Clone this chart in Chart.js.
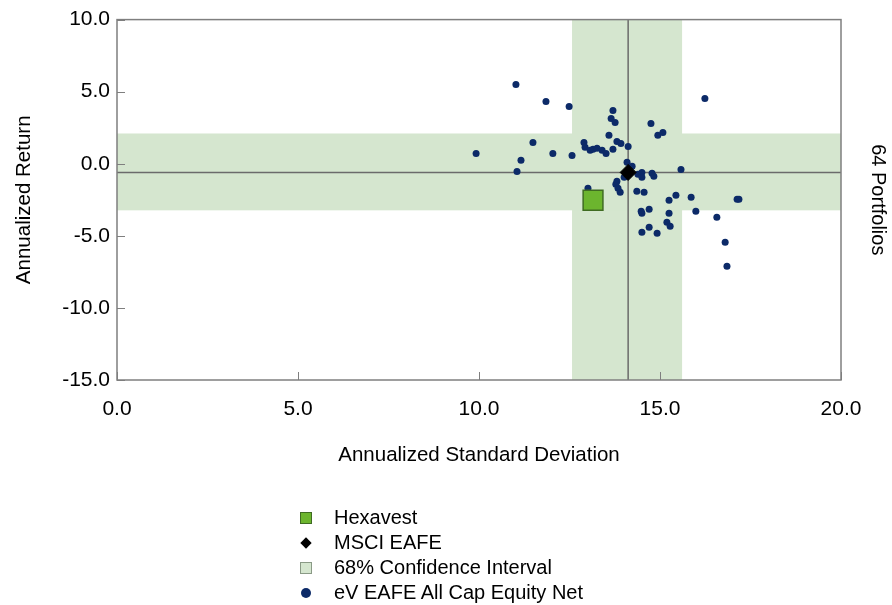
<!DOCTYPE html>
<html>
<head>
<meta charset="utf-8">
<script src="https://cdn.jsdelivr.net/npm/chart.js@4.4.1/dist/chart.umd.min.js"></script>
<style>
    html, body {
        margin: 0;
        padding: 0;
        background: #fff;
    }

    .wrap {
        position: relative;
        width: 892px;
        height: 605px;
    }

    .legend {
        position: absolute;
        left: 293px;
        top: 505px;
        font-family: 'Liberation Sans', Arial, sans-serif;
        font-size: 20px;
        color: #000;
    }

    .legend .item {
        height: 25px;
        display: flex;
        align-items: center;
    }

    .legend .mark {
        width: 41px;
        height: 25px;
        position: relative;
    }

    .legend .mark span {
        position: absolute;
        box-sizing: border-box;
    }
</style>
</head>
<body>
<div class="wrap">
    <canvas id="riskChart" width="892" height="605"></canvas>
    <div class="legend">
        <div class="item">
            <div class="mark"><span style="left:7px;top:7px;width:12px;height:12px;background:#6cb52e;border:1px solid #3f6b22;"></span></div>
            <div>Hexavest</div>
        </div>
        <div class="item">
            <div class="mark"><span style="left:9px;top:9px;width:8px;height:8px;background:#000;transform:rotate(45deg);"></span></div>
            <div>MSCI EAFE</div>
        </div>
        <div class="item">
            <div class="mark"><span style="left:7px;top:7px;width:12px;height:12px;background:#d5e6cf;border:1px solid #8a9a86;"></span></div>
            <div>68% Confidence Interval</div>
        </div>
        <div class="item">
            <div class="mark"><span style="left:8px;top:8px;width:10px;height:10px;background:#0c2a68;border-radius:50%;"></span></div>
            <div>eV EAFE All Cap Equity Net</div>
        </div>
    </div>
</div>

<script>
    // portfolio universe (annualized std dev, annualized return)
    const universeSd = [
        9.92, 11.02, 11.85, 12.49, 11.05, 11.16, 11.49, 12.04, 12.57, 12.90,
        12.93, 13.07, 13.15, 13.26, 13.40, 13.51, 13.70, 13.59, 13.70, 13.65,
        13.76, 13.81, 13.92, 14.12, 14.75, 14.94, 15.08, 16.24, 14.09, 14.23,
        14.39, 14.50, 14.50, 14.78, 14.83, 15.58, 14.01, 13.81, 13.78, 13.84,
        13.90, 13.01, 14.36, 14.56, 15.25, 15.44, 15.86, 17.13, 17.18, 14.48,
        14.50, 14.70, 15.25, 15.99, 16.57, 15.19, 15.28, 14.50, 14.70, 14.92,
        16.80, 16.85
    ];
    const universeReturn = [
        0.72, 5.50, 4.32, 3.98, -0.53, 0.24, 1.48, 0.72, 0.58, 1.48,
        1.14, 0.93, 1.00, 1.07, 0.93, 0.72, 1.00, 1.97, 3.70, 3.14,
        2.87, 1.55, 1.41, 1.20, 2.80, 1.97, 2.17, 4.53, 0.10, -0.18,
        -0.73, -0.60, -0.94, -0.66, -0.87, -0.39, -0.94, -1.22, -1.43, -1.70,
        -1.98, -1.70, -1.91, -1.98, -2.53, -2.19, -2.33, -2.47, -2.47, -3.30,
        -3.43, -3.16, -3.43, -3.30, -3.71, -4.06, -4.34, -4.75, -4.40, -4.82,
        -5.44, -7.11
    ];

    const hexavestSd = [13.15];
    const hexavestReturn = [-2.53];
    const benchSd = [14.12];
    const benchReturn = [-0.60];

    // 68% confidence interval bounds
    const ciSd = [12.57, 15.61];
    const ciReturn = [-3.23, 2.10];

    const xTicks = [0, 5, 10, 15, 20];
    const yTicks = [-15, -10, -5, 0, 5, 10];

    const family = "'Liberation Sans', Arial, sans-serif";

    const toPoints = (xs, ys) => xs.map((v, i) => ({ x: v, y: ys[i] }));

    const backdrop = {
        id: 'backdrop',
        beforeDatasetsDraw(chart) {
            const { ctx, chartArea: a, scales: { x, y } } = chart;
            ctx.save();

            // confidence bands
            ctx.fillStyle = '#d5e6cf';
            const bx0 = x.getPixelForValue(ciSd[0]);
            const bx1 = x.getPixelForValue(ciSd[1]);
            const by0 = y.getPixelForValue(ciReturn[1]);
            const by1 = y.getPixelForValue(ciReturn[0]);
            ctx.fillRect(bx0, a.top, bx1 - bx0, a.bottom - a.top);
            ctx.fillRect(a.left, by0, a.right - a.left, by1 - by0);

            // benchmark crosshair
            const mx = x.getPixelForValue(benchSd[0]);
            const my = y.getPixelForValue(benchReturn[0]);
            ctx.strokeStyle = '#6b6b6b';
            ctx.lineWidth = 1.5;
            ctx.beginPath();
            ctx.moveTo(mx, a.top);
            ctx.lineTo(mx, a.bottom);
            ctx.moveTo(a.left, my);
            ctx.lineTo(a.right, my);
            ctx.stroke();

            // inward tick marks
            ctx.strokeStyle = '#7f7f7f';
            ctx.lineWidth = 1;
            ctx.beginPath();
            xTicks.forEach(v => {
                const px = Math.round(x.getPixelForValue(v)) + 0.5;
                ctx.moveTo(px, a.bottom);
                ctx.lineTo(px, a.bottom - 8);
            });
            yTicks.forEach(v => {
                const py = Math.round(y.getPixelForValue(v)) + 0.5;
                ctx.moveTo(a.left, py);
                ctx.lineTo(a.left + 8, py);
            });
            ctx.stroke();

            // frame
            ctx.lineWidth = 1.5;
            ctx.strokeRect(a.left, a.top, a.right - a.left, a.bottom - a.top);
            ctx.restore();
        }
    };

    const config = {
        type: 'scatter',
        data: {
            datasets: [{
                label: 'Hexavest',
                data: toPoints(hexavestSd, hexavestReturn),
                pointStyle: 'rect',
                pointRadius: 14,
                backgroundColor: '#6cb52e',
                borderColor: '#3f6b22',
                borderWidth: 1.5
            }, {
                label: 'MSCI EAFE',
                data: toPoints(benchSd, benchReturn),
                pointStyle: 'rectRot',
                pointRadius: 8,
                backgroundColor: '#000',
                borderColor: '#000',
                borderWidth: 1
            }, {
                label: 'eV EAFE All Cap Equity Net',
                data: toPoints(universeSd, universeReturn),
                pointStyle: 'circle',
                pointRadius: 3.5,
                backgroundColor: '#0c2a68',
                borderWidth: 0
            }]
        },
        options: {
            responsive: false,
            animation: false,
            events: [],
            layout: {
                padding: { left: 0, top: 19, right: 0, bottom: 135 }
            },
            plugins: {
                legend: { display: false },
                tooltip: { enabled: false }
            },
            scales: {
                x: {
                    type: 'linear',
                    min: 0,
                    max: 20,
                    afterFit: s => { s.height = 90; },
                    afterBuildTicks: s => { s.ticks = xTicks.map(v => ({ value: v })); },
                    grid: { display: false, drawTicks: false },
                    border: { display: false },
                    ticks: {
                        padding: 17,
                        color: '#000',
                        font: { family: family, size: 21 },
                        callback: v => v.toFixed(1)
                    },
                    title: {
                        display: true,
                        text: 'Annualized Standard Deviation',
                        color: '#000',
                        padding: { top: 0, bottom: 2 },
                        font: { family: family, size: 20.5, lineHeight: 1.2 }
                    }
                },
                y: {
                    type: 'linear',
                    min: -15,
                    max: 10,
                    afterFit: s => { s.width = 117; },
                    afterBuildTicks: s => { s.ticks = yTicks.map(v => ({ value: v })); },
                    grid: { display: false, drawTicks: false },
                    border: { display: false },
                    ticks: {
                        padding: 7,
                        color: '#000',
                        font: { family: family, size: 21 },
                        callback: v => v.toFixed(1)
                    },
                    title: {
                        display: true,
                        text: 'Annualized Return',
                        color: '#000',
                        padding: { top: 12, bottom: 0 },
                        font: { family: family, size: 20.5, lineHeight: 1.2 }
                    }
                },
                y2: {
                    type: 'linear',
                    position: 'right',
                    min: -15,
                    max: 10,
                    afterFit: s => { s.width = 51; },
                    grid: { display: false, drawTicks: false },
                    border: { display: false },
                    ticks: { display: false },
                    title: {
                        display: true,
                        text: '64 Portfolios',
                        color: '#000',
                        padding: { top: 2, bottom: 0 },
                        font: { family: family, size: 20, lineHeight: 1.2 }
                    }
                }
            }
        },
        plugins: [backdrop]
    };

    const riskChart = new Chart(document.getElementById('riskChart'), config);
</script>
</body>
</html>
